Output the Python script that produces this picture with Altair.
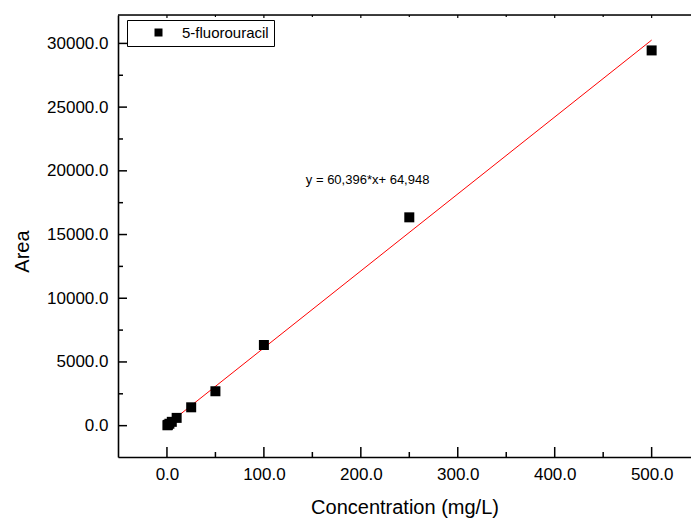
import altair as alt
import pandas as pd

# ---- data ----
conc = [0.5, 1, 2.5, 5, 10, 25, 50, 100, 250, 500]
area = [30, 65, 150, 300, 610, 1440, 2700, 6330, 16350, 29450]
series = "5-fluorouracil"

fit_x = [0, 500]
fit_y = [64.948, 30262.948]

equation = "y = 60,396*x+ 64,948"
eq_x = [207]
eq_y = [19300]

x_major = [0, 100, 200, 300, 400, 500]
x_minor = [50, 150, 250, 350, 450]
y_major = [0, 5000, 10000, 15000, 20000, 25000, 30000]
y_minor = [2500, 7500, 12500, 17500, 22500, 27500]

W, H = 573, 442
FONT = "Liberation Sans"

xs = alt.Scale(domain=[-50.5, 540.6], nice=False, zero=False)
ys = alt.Scale(domain=[-2460, 32230], nice=False, zero=False)

pts_df = pd.DataFrame({"conc": conc, "area": area, "series": [series] * len(conc)})
fit_df = pd.DataFrame({"conc": fit_x, "area": fit_y})
eq_df = pd.DataFrame({"conc": eq_x, "area": eq_y, "label": [equation]})
xmaj_df = pd.DataFrame({"conc": x_major})
xmin_df = pd.DataFrame({"conc": x_minor})
ymaj_df = pd.DataFrame({"area": y_major})
ymin_df = pd.DataFrame({"area": y_minor})
one_df = pd.DataFrame({"a": [0]})

x_axis = alt.Axis(values=x_major, format=".1f", ticks=False, grid=False,
                  labelFontSize=17, labelPadding=9, labelColor="black",
                  domainColor="black", domainWidth=1.6,
                  title="Concentration (mg/L)", titleFontSize=20,
                  titleFontWeight="normal", titlePadding=15, titleColor="black")
y_axis = alt.Axis(values=y_major, format=".1f", ticks=False, grid=False,
                  labelFontSize=17, labelPadding=10, labelColor="black",
                  domainColor="black", domainWidth=1.6,
                  title="Area", titleFontSize=20, titleFontWeight="normal",
                  titlePadding=14, titleColor="black", titleY=236)


def X():
    return alt.X("conc:Q", scale=xs, axis=x_axis)


def Y():
    return alt.Y("area:Q", scale=ys, axis=y_axis)


line = alt.Chart(fit_df).mark_line(color="#ff0000", strokeWidth=1).encode(x=X(), y=Y())

pts = alt.Chart(pts_df).mark_square(size=100, opacity=1).encode(
    x=X(), y=Y(),
    color=alt.Color("series:N", scale=alt.Scale(range=["black"]),
                    legend=alt.Legend(title=None, orient="none", legendX=9, legendY=5,
                                      strokeColor="black", fillColor="white",
                                      padding=5, symbolType="square", symbolSize=64,
                                      symbolOffset=19, labelOffset=16,
                                      labelFontSize=15, labelColor="black",
                                      symbolStrokeWidth=0)),
)

eq = alt.Chart(eq_df).mark_text(fontSize=13, font=FONT, color="black", baseline="middle").encode(
    x=X(), y=Y(), text="label:N")

xmaj = alt.Chart(xmaj_df).mark_rule(color="black", strokeWidth=1.5).encode(
    x=X(), y=alt.value(H), y2=alt.value(H - 10))
xmin = alt.Chart(xmin_df).mark_rule(color="black", strokeWidth=1.5).encode(
    x=X(), y=alt.value(H), y2=alt.value(H - 5))
xtop_maj = alt.Chart(xmaj_df).mark_rule(color="black", strokeWidth=1.2).encode(
    x=X(), y=alt.value(0), y2=alt.value(3))
xtop_min = alt.Chart(xmin_df).mark_rule(color="black", strokeWidth=1.2).encode(
    x=X(), y=alt.value(0), y2=alt.value(2))
ymaj = alt.Chart(ymaj_df).mark_rule(color="black", strokeWidth=1.5).encode(
    y=Y(), x=alt.value(0), x2=alt.value(9))
ymin = alt.Chart(ymin_df).mark_rule(color="black", strokeWidth=1.5).encode(
    y=Y(), x=alt.value(0), x2=alt.value(5))
top = alt.Chart(one_df).mark_rule(color="black", strokeWidth=1.6).encode(
    x=alt.value(0), x2=alt.value(W), y=alt.value(0))

chart = alt.layer(line, pts, eq, xmaj, xmin, xtop_maj, xtop_min, ymaj, ymin, top).properties(
    width=W, height=H,
    autosize=alt.AutoSizeParams(type="none"),
    padding={"left": 118, "top": 15, "right": 0, "bottom": 61},
    background="white",
).configure_view(stroke=None).configure(font=FONT)

chart.save("out.html", embed_options={"renderer": "svg", "actions": False})
